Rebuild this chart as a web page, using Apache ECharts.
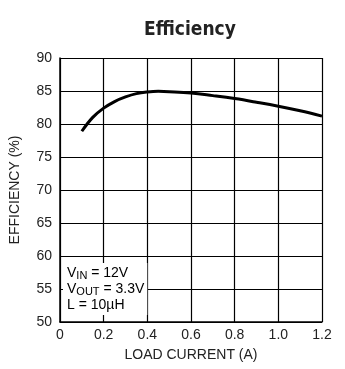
<!DOCTYPE html>
<html><head><meta charset="utf-8">
<script src="https://cdn.jsdelivr.net/npm/echarts@6/dist/echarts.min.js"></script>
<style>html,body{margin:0;padding:0;background:#fff}#c{width:345px;height:369px}</style>
</head><body><div id="c"></div>
<script>
const titleText = 'Efficiency';
const xName = 'LOAD CURRENT (A)';
const yName = 'EFFICIENCY (%)';
const loadCurrent = [0.1, 0.15, 0.2, 0.25, 0.3, 0.35, 0.4, 0.45, 0.5, 0.6, 0.7, 0.8, 0.9, 1.0, 1.1, 1.2];
const efficiency  = [78.9, 81.0, 82.4, 83.4, 84.1, 84.6, 84.85, 84.95, 84.9, 84.7, 84.3, 83.85, 83.3, 82.7, 82.0, 81.2];
const xTicks = [0, 0.2, 0.4, 0.6, 0.8, 1.0, 1.2];
const yTicks = [50, 55, 60, 65, 70, 75, 80, 85, 90];

const font = "'Liberation Sans', Arial, sans-serif";
const condFont = "'DejaVu Sans Condensed', 'Liberation Sans Narrow', 'Liberation Sans', sans-serif";
const chart = echarts.init(document.getElementById('c'));
chart.setOption({
  animation: false,
  grid: { left: 58, right: 23, top: 58, bottom: 47 },
  xAxis: {
    type: 'value', min: 0, max: 1.2, interval: 0.2,
    name: xName, nameLocation: 'middle', nameGap: 26,
    nameTextStyle: { fontFamily: font, fontSize: 14, color: '#222' },
    axisLine: { lineStyle: { color: '#000', width: 1.5 } },
    axisTick: { show: false },
    axisLabel: { fontFamily: font, fontSize: 14, color: '#222', margin: 6,
      formatter: v => v === 0 ? '0' : v.toFixed(1) },
    splitLine: { lineStyle: { color: '#000', width: 1.2 } }
  },
  yAxis: {
    type: 'value', min: 50, max: 90, interval: 5,
    name: yName, nameLocation: 'middle', nameGap: 38,
    nameTextStyle: { fontFamily: font, fontSize: 14, color: '#222' },
    axisLine: { show: true, lineStyle: { color: '#000', width: 1.5 } },
    axisTick: { show: false },
    axisLabel: { fontFamily: font, fontSize: 14, color: '#222', margin: 8 },
    splitLine: { lineStyle: { color: '#000', width: 1.2 } }
  },
  series: [{
    type: 'line', data: loadCurrent.map((x, i) => [x, efficiency[i]]),
    smooth: 0.4, symbol: 'none',
    lineStyle: { color: '#000', width: 3 }, z: 5
  }],
  graphic: [{
    type: 'text', x: 190, y: 30, z: 10,
    style: { text: titleText, textAlign: 'center', textVerticalAlign: 'middle',
      fontFamily: condFont, fontSize: 19, fontWeight: 'bold', fill: '#222' }
  }, {
    type: 'text', left: 63, top: 263, z: 10,
    style: {
      text: '{n|V}{s|IN}{n| = 12V}\n{n|V}{s|OUT}{n| = 3.3V}\n{n|L = 10µH}',
      backgroundColor: '#fff', padding: [2, 3, 2, 4],
      rich: {
        n: { fontFamily: font, fontSize: 14, color: '#222', lineHeight: 16 },
        s: { fontFamily: font, fontSize: 11, color: '#222', lineHeight: 16, verticalAlign: 'bottom', padding: [6, 0, 0, 0] }
      }
    }
  }]
});
</script></body></html>
